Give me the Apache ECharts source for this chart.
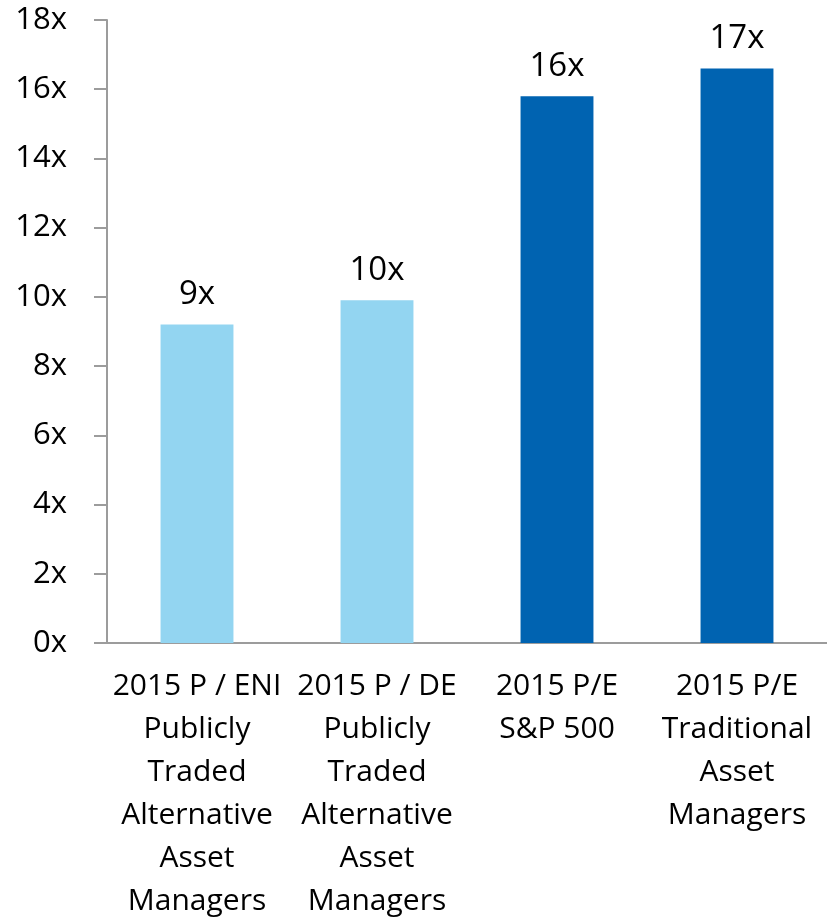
<!DOCTYPE html>
<html>
<head>
<meta charset="utf-8">
<script src="https://cdn.jsdelivr.net/npm/echarts@6/dist/echarts.min.js"></script>
<style>
  html, body { margin: 0; padding: 0; background: #fff; }
  #chart { width: 827px; height: 923px; }
</style>
</head>
<body>
<div id="chart"></div>
<script>
// values
var categories = [
    '2015 P / ENI\nPublicly\nTraded\nAlternative\nAsset\nManagers',
    '2015 P / DE\nPublicly\nTraded\nAlternative\nAsset\nManagers',
    '2015 P/E\nS&P 500',
    '2015 P/E\nTraditional\nAsset\nManagers'
];
var multiples = [9.2, 9.9, 15.8, 16.6];
var barColors = ['#93D5F1', '#93D5F1', '#0063B1', '#0063B1'];

var font = '"Open Sans", "Noto Sans", sans-serif';
var chart = echarts.init(document.getElementById('chart'));

chart.setOption({
    animation: false,
    grid: { left: 107, right: 0, top: 20, bottom: 278, containLabel: false },
    xAxis: {
        type: 'category',
        data: categories,
        axisLine: { lineStyle: { color: '#9C9C9C', width: 2 } },
        axisTick: { length: 11, lineStyle: { color: '#9C9C9C', width: 2 } },
        axisLabel: {
            color: '#000', fontSize: 30, fontFamily: font,
            lineHeight: 43, margin: 22, interval: 0
        }
    },
    yAxis: {
        type: 'value',
        min: 0, max: 18, interval: 2,
        splitLine: { show: false },
        axisLine: { show: true, lineStyle: { color: '#9C9C9C', width: 2 } },
        axisTick: { show: true, inside: false, length: 13, lineStyle: { color: '#9C9C9C', width: 2 } },
        axisLabel: {
            color: '#000', fontSize: 31, fontFamily: font, margin: 40,
            formatter: function (v) { return v + 'x'; }
        }
    },
    series: [{
        type: 'bar',
        barWidth: '40.5%',
        data: multiples.map(function (v, i) {
            return { value: v, itemStyle: { color: barColors[i] } };
        }),
        label: {
            show: true, position: 'top', distance: 13,
            color: '#000', fontSize: 33, fontFamily: font,
            formatter: function (p) { return Math.round(p.value) + 'x'; }
        }
    }]
});
</script>
</body>
</html>
